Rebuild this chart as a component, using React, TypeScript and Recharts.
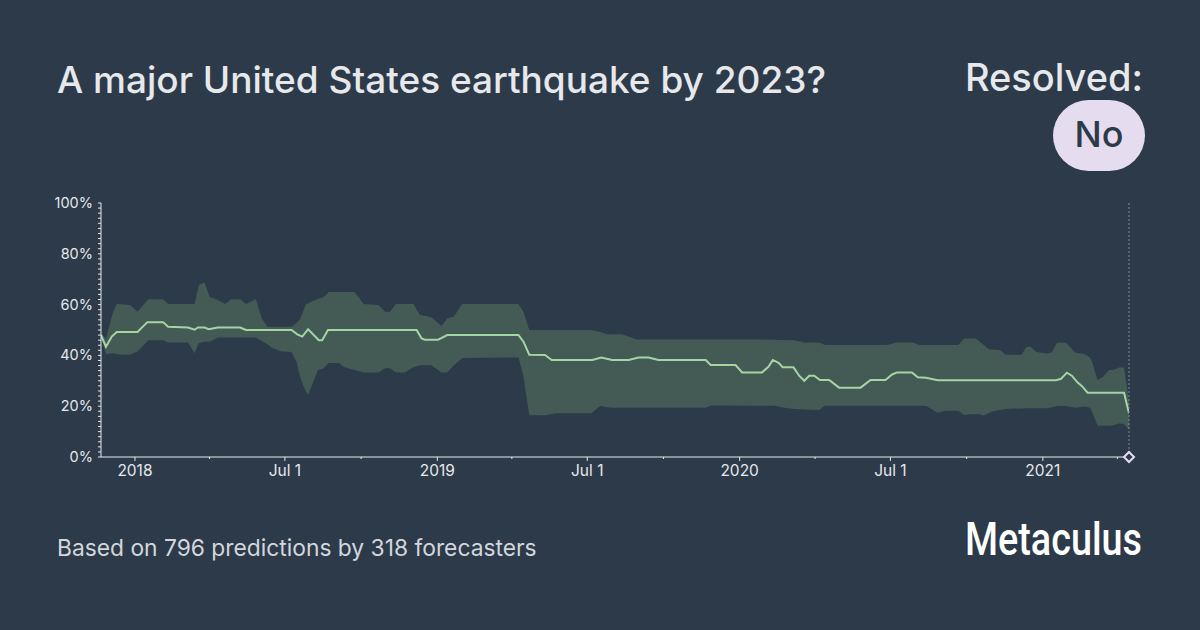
import { Area, ComposedChart, Line, ReferenceDot, ReferenceLine, XAxis, YAxis } from "recharts"

const BG = "#2c3a4a"
const BAND = "#435a55"
const LINE = "#a6d5a4"
const TEXT = "#e6e8eb"
const MUTED = "#d3d7dc"
const PILL = "#e6dcef"
const FONT = "Inter, 'Noto Sans', sans-serif"

const startDate = "2017-11-21"
const endDate = "2021-04-15"

// spread of the community forecast (lower / upper quartile, %)
const bandDates = [
  "2017-11-21", "2017-11-27", "2017-12-05", "2017-12-10", "2017-12-16", "2017-12-26",
  "2018-01-04", "2018-01-17", "2018-02-04", "2018-02-10", "2018-03-06", "2018-03-14",
  "2018-03-19", "2018-03-26", "2018-04-01", "2018-04-11", "2018-04-20", "2018-04-27",
  "2018-05-08", "2018-05-15", "2018-05-27", "2018-06-03", "2018-06-10", "2018-06-15",
  "2018-06-27", "2018-07-09", "2018-07-15", "2018-07-19", "2018-07-22", "2018-07-26",
  "2018-07-29", "2018-08-10", "2018-08-16", "2018-08-23", "2018-09-04", "2018-09-11",
  "2018-09-23", "2018-10-04", "2018-10-22", "2018-10-30", "2018-11-05", "2018-11-12",
  "2018-11-23", "2018-12-03", "2018-12-11", "2018-12-25", "2019-01-06", "2019-01-13",
  "2019-01-21", "2019-01-31", "2019-04-09", "2019-04-15", "2019-04-22", "2019-05-12",
  "2019-05-24", "2019-07-06", "2019-07-17", "2019-07-25", "2019-07-31", "2019-08-12",
  "2019-08-30", "2019-11-21", "2019-11-27", "2020-02-12", "2020-02-24", "2020-03-07",
  "2020-03-19", "2020-04-06", "2020-04-13", "2020-06-27", "2020-07-08", "2020-07-28",
  "2020-08-05", "2020-08-13", "2020-08-27", "2020-09-06", "2020-09-21", "2020-09-28",
  "2020-10-06", "2020-10-12", "2020-10-16", "2020-10-22", "2020-10-28", "2020-10-31",
  "2020-11-10", "2020-11-17", "2020-12-06", "2020-12-12", "2020-12-17", "2020-12-24",
  "2021-01-07", "2021-01-12", "2021-01-18", "2021-01-29", "2021-02-09", "2021-02-20",
  "2021-02-27", "2021-03-02", "2021-03-08", "2021-03-14", "2021-03-22", "2021-03-27",
  "2021-04-03", "2021-04-09", "2021-04-15",
]
const bandLow = [
  47.4, 40.6, 40.8, 40.6, 40.3, 40.3,
  41.5, 46, 46, 45.1, 45.1, 40.8,
  44.8, 45.4, 45.4, 47, 47, 47,
  47, 47, 47, 45.7, 44.4, 43,
  41.5, 41.3, 37.5, 32, 29, 26,
  24.4, 34.3, 34.7, 37, 37, 35.3,
  34.3, 33.3, 33.3, 34.9, 34.9, 33.3,
  33.3, 35.3, 36.1, 36.1, 33.3, 33.3,
  36, 39, 39.2, 31.6, 16.4, 16.4,
  17.2, 17.2, 20.1, 19.6, 19.4, 19.4,
  19.4, 19.4, 20.3, 20.2, 19.4, 18.9,
  18.7, 18.5, 20.2, 20.2, 20.2, 20.2,
  20.2, 20.1, 17.4, 18.2, 18.2, 16.5,
  16.8, 16.8, 16.8, 16.3, 17.3, 17.8,
  18.5, 18.9, 19.1, 19.2, 19.2, 19.2,
  19.2, 19.6, 20.1, 20.1, 19.4, 19.9,
  19.4, 17.4, 12.3, 12.3, 12.3, 12.4,
  13.2, 13, 10.6,
]
const bandHigh = [
  48.7, 46.7, 56.6, 60.2, 60.1, 59.8,
  57.2, 62.1, 62.1, 60.2, 60.2, 60.2,
  67.7, 68.8, 63.1, 61.8, 60.2, 62.1,
  62.1, 60.2, 62.1, 54.6, 51.3, 51.3,
  51.3, 51.3, 52.8, 54, 56.5, 59.8,
  60.5, 62.3, 62.8, 65, 65, 65,
  65, 60.2, 59.8, 57.2, 57.2, 60.2,
  60.2, 60.2, 56, 55, 51.6, 54.5,
  55.3, 60.2, 60.2, 57.2, 50, 50,
  50, 50, 49.2, 48.3, 48.3, 48.3,
  46.3, 46.3, 46.3, 46.2, 46.1, 46,
  45.1, 45.1, 44.1, 44.1, 45.1, 45.1,
  44.1, 44.1, 44.1, 44.1, 44.1, 46.7,
  46.7, 46.7, 45.6, 44, 42.4, 42.3,
  42.1, 40.3, 40.3, 43.2, 43.5, 41.3,
  40.7, 41.3, 45, 45, 41.1, 40.5,
  39.2, 36.9, 30.3, 31.4, 34.3, 34.3,
  35.2, 35.2, 21.8,
]

// community median (%)
const medianDates = [
  "2017-11-21", "2017-11-27", "2017-12-04", "2017-12-10", "2018-01-04", "2018-01-16",
  "2018-02-04", "2018-02-10", "2018-03-06", "2018-03-14", "2018-03-18", "2018-03-26",
  "2018-03-31", "2018-04-11", "2018-05-08", "2018-05-15", "2018-07-09", "2018-07-16",
  "2018-07-22", "2018-07-29", "2018-08-11", "2018-08-15", "2018-08-22", "2018-12-07",
  "2018-12-13", "2018-12-17", "2019-01-02", "2019-01-13", "2019-04-09", "2019-04-15",
  "2019-04-22", "2019-05-11", "2019-05-19", "2019-07-07", "2019-07-18", "2019-07-31",
  "2019-08-20", "2019-09-01", "2019-09-13", "2019-09-25", "2019-11-21", "2019-11-27",
  "2019-12-27", "2020-01-04", "2020-01-28", "2020-02-05", "2020-02-10", "2020-02-17",
  "2020-02-22", "2020-03-06", "2020-03-13", "2020-03-19", "2020-03-25", "2020-03-31",
  "2020-04-07", "2020-04-18", "2020-04-30", "2020-05-26", "2020-06-07", "2020-06-25",
  "2020-07-03", "2020-07-09", "2020-07-27", "2020-08-03", "2020-08-13", "2020-08-27",
  "2021-01-17", "2021-01-23", "2021-01-30", "2021-02-05", "2021-02-12", "2021-02-17",
  "2021-02-24", "2021-04-09", "2021-04-15",
]
const medianValues = [
  48, 43.4, 47.4, 49.2, 49.2, 53.1,
  53.1, 51.3, 51, 50.1, 51, 51,
  50.3, 51, 51, 50, 50, 48.3,
  47.4, 50.3, 46, 46, 50, 50,
  46.7, 46.2, 46.2, 48, 48, 45.4,
  40.3, 40.2, 38.2, 38.2, 39.2, 38.2,
  38.2, 39.2, 39.2, 38.2, 38.2, 36.2,
  36.2, 33.3, 33.3, 35.6, 38.2, 37.1,
  35.3, 35.3, 31.9, 30, 32, 32,
  30.3, 30.3, 27.3, 27.3, 30.3, 30.3,
  32.5, 33.3, 33.3, 31.4, 31.2, 30.2,
  30.2, 30.8, 33.2, 32, 29.3, 28,
  25.3, 25.3, 17.2,
]

const xMajorTicks = ["2018-01-01", "2018-07-01", "2019-01-01", "2019-07-01", "2020-01-01", "2020-07-01", "2021-01-01"]
const xMajorLabels = ["2018", "Jul 1", "2019", "Jul 1", "2020", "Jul 1", "2021"]
const xMinorTicks = ["2018-04-01", "2018-10-01", "2019-04-01", "2019-10-01", "2020-04-01", "2020-10-01", "2021-04-01"]
const yMajorTicks = [0, 20, 40, 60, 80, 100]

const ts = (d: string) => Date.parse(d + "T00:00:00Z")

const bandData = bandDates.map((d, i) => ({ t: ts(d), range: [bandLow[i], bandHigh[i]] }))
const medianData = medianDates.map((d, i) => ({ t: ts(d), value: medianValues[i] }))

const xTicks = [...xMajorTicks, ...xMinorTicks].map(ts).sort((a, b) => a - b)
const xLabels = new Map(xMajorTicks.map((d, i) => [ts(d), xMajorLabels[i]]))
// minor ticks every 2%
const yTicks = Array.from({ length: 51 }, (_, i) => i * 2)

function XTick({ x, y, payload }: any) {
  const label = xLabels.get(payload.value)
  return (
    <g>
      <line x1={x} x2={x} y1={y} y2={y + (label ? 4 : 2)} stroke={TEXT} />
      {label && (
        <text x={x} y={y + 19} textAnchor="middle" fill={TEXT} fontSize={15.5} fontFamily={FONT}>
          {label}
        </text>
      )}
    </g>
  )
}

function YTick({ x, y, payload }: any) {
  const major = yMajorTicks.includes(payload.value)
  return (
    <g>
      <line x1={x - 3} x2={x} y1={y} y2={y} stroke={TEXT} />
      {major && (
        <text x={x - 8} y={y} dy="0.35em" textAnchor="end" fill={TEXT} fontSize={14.5} fontFamily={FONT}>
          {payload.value}%
        </text>
      )}
    </g>
  )
}

function Diamond({ cx, cy }: any) {
  return (
    <path
      d={`M${cx},${cy - 5}L${cx + 5},${cy}L${cx},${cy + 5}L${cx - 5},${cy}Z`}
      fill={BG}
      stroke={PILL}
      strokeWidth={2}
    />
  )
}

export default function App() {
  return (
    <div style={{ position: "absolute", left: 0, top: 0, width: 1200, height: 630, background: BG, overflow: "hidden" }}>
      <style>{"body{margin:0}"}</style>
      <div style={{ position: "absolute", left: 0, top: 0 }}>
        <ComposedChart width={1200} height={630} margin={{ top: 203, right: 71, bottom: 143, left: 41 }}>
          <XAxis
            type="number"
            dataKey="t"
            domain={[ts(startDate), ts(endDate)]}
            ticks={xTicks}
            interval={0}
            height={30}
            tickSize={0}
            tickMargin={0}
            tickLine={false}
            tick={<XTick />}
            axisLine={{ stroke: TEXT }}
            allowDataOverflow
          />
          <YAxis
            type="number"
            domain={[0, 100]}
            ticks={yTicks}
            interval={0}
            width={60}
            tickSize={0}
            tickMargin={0}
            tickLine={false}
            tick={<YTick />}
            axisLine={{ stroke: TEXT }}
            allowDataOverflow
          />
          <Area
            data={bandData}
            dataKey="range"
            type="linear"
            stroke="none"
            fill={BAND}
            fillOpacity={1}
            isAnimationActive={false}
          />
          <Line
            data={medianData}
            dataKey="value"
            type="linear"
            stroke={LINE}
            strokeWidth={2}
            dot={false}
            isAnimationActive={false}
          />
          <ReferenceLine x={ts(endDate)} stroke="#7f8894" strokeDasharray="2 2" />
          <ReferenceDot x={ts(endDate)} y={0} r={5} shape={<Diamond />} ifOverflow="visible" />
        </ComposedChart>
      </div>
      <svg width={1200} height={630} style={{ position: "absolute", left: 0, top: 0, pointerEvents: "none" }}>
        <text x={57} y={93} fill={TEXT} fontSize={37} fontWeight={500} fontFamily={FONT}>
          A major United States earthquake by 2023?
        </text>
        <text x={1143} y={91} textAnchor="end" fill={TEXT} fontSize={38} fontWeight={500} fontFamily={FONT}>
          Resolved:
        </text>
        <rect x={1053} y={100} width={92} height={71} rx={35.5} fill={PILL} />
        <text x={1099} y={147} textAnchor="middle" fill={BG} fontSize={36} fontWeight={500} fontFamily={FONT}>
          No
        </text>
        <text x={57} y={556} fill={MUTED} fontSize={22.8} fontFamily={FONT}>
          Based on 796 predictions by 318 forecasters
        </text>
        <text
          x={965}
          y={555}
          textLength={177}
          lengthAdjust="spacingAndGlyphs"
          fill="#ffffff"
          fontSize={46}
          fontWeight={500}
          fontFamily="Roboto, 'Liberation Sans Narrow', sans-serif"
        >
          Metaculus
        </text>
      </svg>
    </div>
  )
}
